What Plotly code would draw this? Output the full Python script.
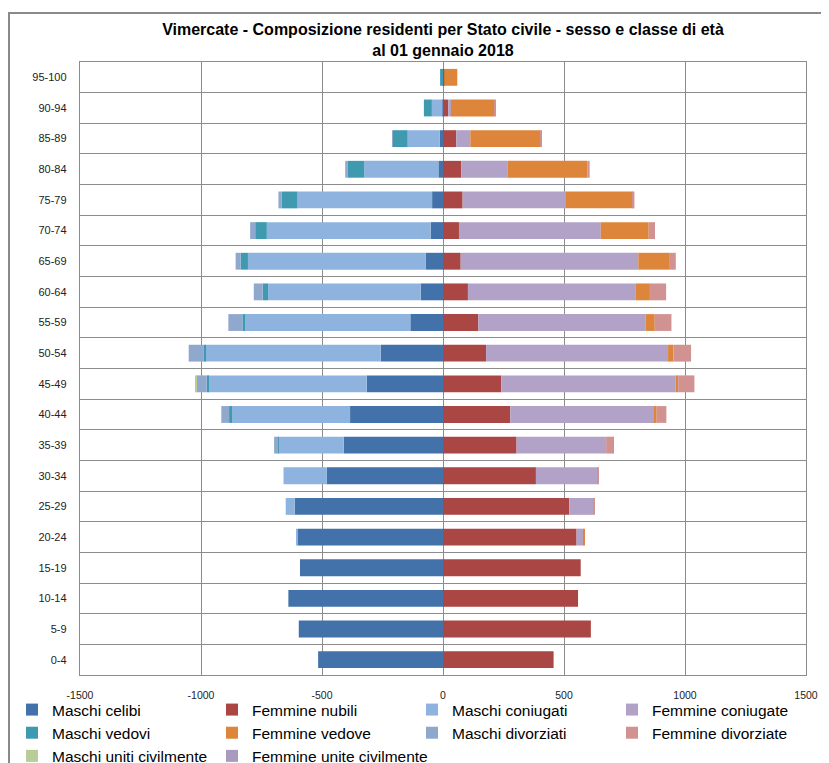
import plotly.graph_objects as go

# ---- data -------------------------------------------------------------
age_groups = ["0-4", "5-9", "10-14", "15-19", "20-24", "25-29", "30-34", "35-39",
              "40-44", "45-49", "50-54", "55-59", "60-64", "65-69", "70-74",
              "75-79", "80-84", "85-89", "90-94", "95-100"]

maschi_celibi = [516, 596, 639, 591, 600, 613, 480, 410, 384, 315,
                 257, 135, 92, 72, 51, 45, 19, 14, 2, 1]
femmine_nubili = [457, 611, 558, 569, 552, 522, 384, 304, 278, 241,
                  178, 146, 103, 73, 66, 81, 76, 55, 22, 5]
maschi_coniugati = [0, 0, 0, 0, 4, 37, 179, 270, 492, 655,
                    724, 687, 631, 734, 677, 556, 307, 132, 44, 3]
femmine_coniugate = [0, 0, 0, 0, 28, 99, 256, 370, 598, 720,
                     752, 692, 694, 734, 586, 424, 190, 58, 11, 0]
maschi_vedovi = [0, 0, 0, 0, 0, 0, 0, 1, 8, 7,
                 7, 7, 22, 30, 48, 65, 67, 61, 33, 8]
femmine_vedove = [0, 0, 0, 0, 3, 0, 0, 0, 7, 11,
                  22, 37, 58, 127, 198, 278, 330, 290, 178, 54]
maschi_divorziati = [0, 0, 0, 0, 0, 0, 0, 17, 30, 43,
                     63, 58, 37, 21, 21, 14, 11, 2, 0, 0]
femmine_divorziate = [0, 0, 0, 0, 0, 3, 4, 29, 40, 67,
                      73, 69, 67, 28, 26, 8, 10, 4, 4, 0]
maschi_uniti = [0, 0, 0, 0, 0, 0, 0, 0, 3, 3,
                0, 0, 0, 0, 0, 0, 0, 0, 0, 0]
femmine_unite = [0, 0, 0, 0, 0, 0, 0, 2, 0, 0,
                 0, 0, 0, 0, 0, 0, 0, 0, 0, 0]

x_tick_vals = [-1500, -1000, -500, 0, 500, 1000, 1500]
x_tick_text = ["-1500", "-1000", "-500", "0", "500", "1000", "1500"]

title_line1 = "Vimercate - Composizione residenti per Stato civile - sesso e classe di età"
title_line2 = "al 01 gennaio 2018"

# series: (name, values, sign, colour)
series = [
    ("Maschi celibi", maschi_celibi, -1, "#4272A9"),
    ("Femmine nubili", femmine_nubili, 1, "#AA4643"),
    ("Maschi coniugati", maschi_coniugati, -1, "#8EB3DE"),
    ("Femmine coniugate", femmine_coniugate, 1, "#B2A2C7"),
    ("Maschi vedovi", maschi_vedovi, -1, "#3F9AAF"),
    ("Femmine vedove", femmine_vedove, 1, "#DD853B"),
    ("Maschi divorziati", maschi_divorziati, -1, "#91A8CE"),
    ("Femmine divorziate", femmine_divorziate, 1, "#D19392"),
    ("Maschi uniti civilmente", maschi_uniti, -1, "#B9CD96"),
    ("Femmine unite civilmente", femmine_unite, 1, "#A99BBD"),
]

FONT = "Liberation Sans, Arial, sans-serif"

fig = go.Figure()
for name, vals, sign, col in series:
    fig.add_trace(go.Bar(
        y=age_groups,
        x=[sign * v for v in vals],
        name=name,
        orientation="h",
        marker=dict(color=col, line=dict(width=0)),
    ))

# page body has an 8px margin: figure sized to fill the rest of the window
OFF = 8
W, H = 829 - OFF, 763 - OFF
ml, mt = 80 - OFF, 62 - OFF
mr = W - (806 - OFF)
mb = H - (675 - OFF)
pw = W - ml - mr
ph = H - mt - mb

def px_to_paper_x(px):
    return (px - OFF - ml) / pw

def px_to_paper_y(py):
    return (H - mb - (py - OFF)) / ph

fig.update_layout(
    width=W, height=H,
    margin=dict(l=ml, r=mr, t=mt, b=mb, pad=0, autoexpand=False),
    barmode="relative",
    bargap=0.45,
    paper_bgcolor="white",
    plot_bgcolor="white",
    font=dict(family=FONT, color="#000000"),
    title=dict(
        text="<b>" + title_line1 + "</b><br><b>" + title_line2 + "</b>",
        x=px_to_paper_x(443), xref="paper", xanchor="center",
        y=1 - 27 / H, yref="container", yanchor="top",
        font=dict(size=16, family=FONT, color="#000000"),
    ),
    xaxis=dict(
        range=[-1500, 1500],
        tickvals=x_tick_vals,
        ticktext=x_tick_text,
        showgrid=True, gridcolor="#8c8c8c", gridwidth=1.4,
        zeroline=False,
        showline=True, linecolor="#8c8c8c", linewidth=1.4, mirror=True,
        ticks="", ticklabelstandoff=10,
        tickfont=dict(size=10.5, family=FONT, color="#222222"),
        fixedrange=True,
    ),
    yaxis=dict(
        type="category",
        categoryorder="array", categoryarray=age_groups,
        tickson="boundaries",
        showgrid=True, gridcolor="#8c8c8c", gridwidth=1.4,
        showline=True, linecolor="#8c8c8c", linewidth=1.4, mirror=True,
        ticks="", ticklabelstandoff=10,
        tickfont=dict(size=11, family=FONT, color="#222222"),
        fixedrange=True,
    ),
    showlegend=True,
    legend=dict(
        orientation="h",
        x=px_to_paper_x(12), xanchor="left",
        y=px_to_paper_y(693), yanchor="top",
        entrywidth=155, entrywidthmode="pixels",
        font=dict(size=15.5, family=FONT, color="#000000"),
        traceorder="normal",
        bgcolor="rgba(0,0,0,0)",
        itemclick=False, itemdoubleclick=False,
    ),
    shapes=[dict(
        type="rect", xref="paper", yref="paper",
        x0=px_to_paper_x(9), x1=px_to_paper_x(840),
        y0=px_to_paper_y(780), y1=px_to_paper_y(13),
        line=dict(color="#8a8a8a", width=2),
        fillcolor="rgba(0,0,0,0)", layer="below",
    )],
)

fig.write_html("out.html")
